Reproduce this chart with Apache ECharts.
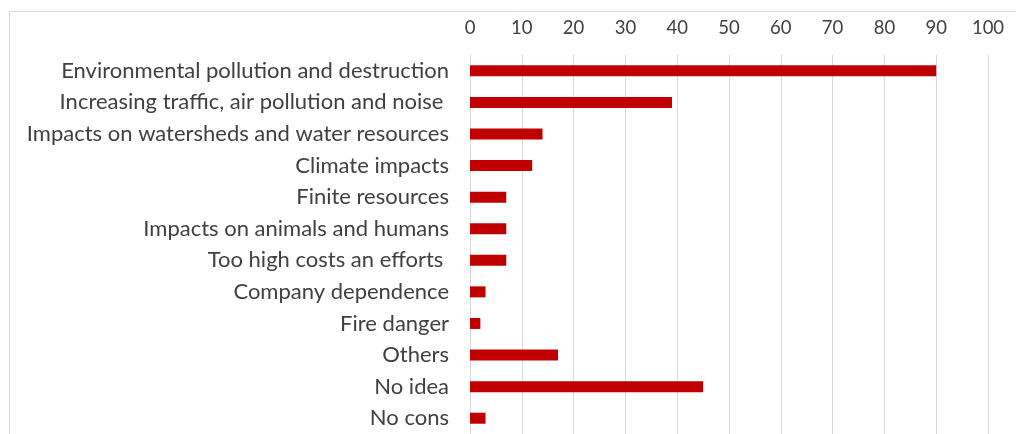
<!DOCTYPE html>
<html><head><meta charset="utf-8">
<script src="https://cdn.jsdelivr.net/npm/echarts@6/dist/echarts.min.js"></script>
<style>html,body{margin:0;padding:0;background:#fff}#c{width:1016px;height:434px}</style>
</head><body><div id="c"></div>
<script>
const categories = [
  "Environmental pollution and destruction",
  "Increasing traffic, air pollution and noise ",
  "Impacts on watersheds and water resources",
  "Climate impacts",
  "Finite resources",
  "Impacts on animals and humans",
  "Too high costs an efforts ",
  "Company dependence",
  "Fire danger",
  "Others",
  "No idea",
  "No cons"
];
const values = [90, 39, 14, 12, 7, 7, 7, 3, 2, 17, 45, 3];
const tickMin = 0, tickMax = 100, tickStep = 10;

const chart = echarts.init(document.getElementById('c'), null, {renderer: 'canvas'});
const font = 'Lato, "Open Sans", sans-serif';
chart.setOption({
  animation: false,
  graphic: [{
    type: 'rect', silent: true,
    shape: {x: 9.5, y: 11.5, width: 1100, height: 500},
    style: {fill: 'none', stroke: '#d9d9d9', lineWidth: 1}
  }],
  grid: {left: 470, right: 28, top: 55, bottom: -5, containLabel: false},
  xAxis: {
    type: 'value', position: 'top', min: tickMin, max: tickMax, interval: tickStep,
    axisLine: {show: false}, axisTick: {show: false},
    axisLabel: {color: '#404040', fontFamily: font, fontSize: 18.5, margin: 17},
    splitLine: {lineStyle: {color: '#d9d9d9', width: 1}}
  },
  yAxis: {
    type: 'category', inverse: true, data: categories,
    axisLine: {show: true, lineStyle: {color: '#d9d9d9', width: 1}},
    axisTick: {show: false},
    axisLabel: {color: '#404040', fontFamily: font, fontSize: 22, margin: 21}
  },
  series: [{
    type: 'bar', data: values, barWidth: 11,
    itemStyle: {color: '#c00000'}
  }]
});
</script></body></html>
